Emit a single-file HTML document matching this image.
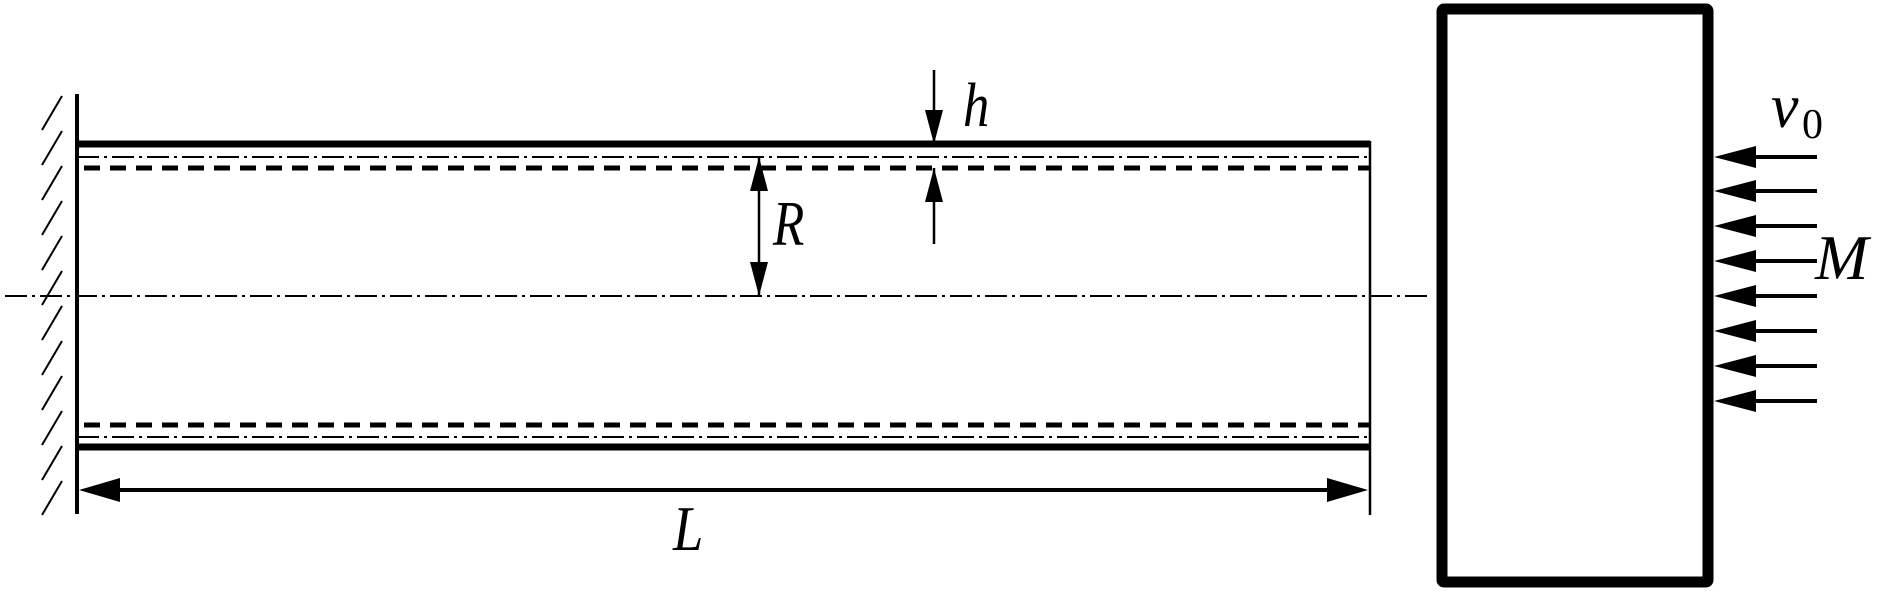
<!DOCTYPE html>
<html><head><style>body{margin:0;background:#fff}svg{display:block}text{font-family:"Liberation Serif",serif;font-style:italic;fill:#000}</style></head>
<body>
<svg width="1890" height="592" viewBox="0 0 1890 592">
<defs>
<marker id="a" markerWidth="34" markerHeight="18" refX="34" refY="9" orient="auto" markerUnits="userSpaceOnUse"><path d="M0,0 L34,9 L0,18 z" fill="#000"/></marker>
</defs>
<g stroke="#000" stroke-width="2">
<path d="M42,130 L62,96 M42,165 L62,131 M42,200 L62,166 M42,235 L62,201 M42,270 L62,236 M42,305 L62,271 M42,340 L62,306 M42,375 L62,341 M42,410 L62,376 M42,445 L62,411 M42,480 L62,446 M42,515 L62,481"/>
</g>
<line x1="77" y1="94" x2="77" y2="514" stroke="#000" stroke-width="4"/>
<line x1="77" y1="144" x2="1370" y2="144" stroke="#000" stroke-width="7"/>
<line x1="77" y1="447" x2="1370" y2="447" stroke="#000" stroke-width="7"/>
<line x1="1370" y1="141" x2="1370" y2="515" stroke="#000" stroke-width="2.5"/>
<g stroke="#000" stroke-width="2" stroke-dasharray="22,5,3,5">
<line x1="77" y1="157" x2="1370" y2="157"/>
<line x1="77" y1="437" x2="1370" y2="437"/>
<line x1="5" y1="296" x2="1430" y2="296"/>
</g>
<g stroke="#000" stroke-width="5" stroke-dasharray="16,10">
<line x1="84" y1="168" x2="1370" y2="168"/>
<line x1="84" y1="425" x2="1370" y2="425"/>
</g>
<line x1="934" y1="70" x2="934" y2="144" stroke="#000" stroke-width="2.5" marker-end="url(#a)"/>
<line x1="934" y1="244" x2="934" y2="168" stroke="#000" stroke-width="2.5" marker-end="url(#a)"/>
<line x1="759" y1="226" x2="759" y2="157" stroke="#000" stroke-width="2.5" marker-end="url(#a)"/>
<line x1="759" y1="226" x2="759" y2="296" stroke="#000" stroke-width="2.5" marker-end="url(#a)"/>
<line x1="120" y1="490" x2="1330" y2="490" stroke="#000" stroke-width="4"/>
<path d="M79,490 L120,478 L120,502 z M1368,490 L1327,478 L1327,502 z" fill="#000"/>
<rect x="1442" y="9" width="266" height="573" fill="none" stroke="#000" stroke-width="11" rx="2"/>
<g stroke="#000" stroke-width="4">
<line x1="1750" y1="157" x2="1817" y2="157"/><line x1="1750" y1="191" x2="1817" y2="191"/>
<line x1="1750" y1="226" x2="1817" y2="226"/><line x1="1750" y1="261" x2="1817" y2="261"/>
<line x1="1750" y1="296" x2="1817" y2="296"/><line x1="1750" y1="331" x2="1817" y2="331"/>
<line x1="1750" y1="366" x2="1817" y2="366"/><line x1="1750" y1="401" x2="1817" y2="401"/>
</g>
<g fill="#000">
<path d="M1714,157 L1756,146 L1756,168z"/><path d="M1714,191 L1756,180 L1756,202z"/>
<path d="M1714,226 L1756,215 L1756,237z"/><path d="M1714,261 L1756,250 L1756,272z"/>
<path d="M1714,296 L1756,285 L1756,307z"/><path d="M1714,331 L1756,320 L1756,342z"/>
<path d="M1714,366 L1756,355 L1756,377z"/><path d="M1714,401 L1756,390 L1756,412z"/>
</g>
<text x="963" y="126" font-size="62" transform="translate(963 0) scale(0.85 1) translate(-963 0)">h</text>
<text x="773" y="245" font-size="64" transform="translate(773 0) scale(0.8 1) translate(-773 0)">R</text>
<text x="673" y="550" font-size="64" transform="translate(673 0) scale(0.85 1) translate(-673 0)">L</text>
<text x="1771" y="127" font-size="62">v</text>
<text x="1802" y="138" font-size="42" style="font-style:normal">0</text>
<text x="1815" y="279" font-size="64">M</text>
</svg>
</body></html>
